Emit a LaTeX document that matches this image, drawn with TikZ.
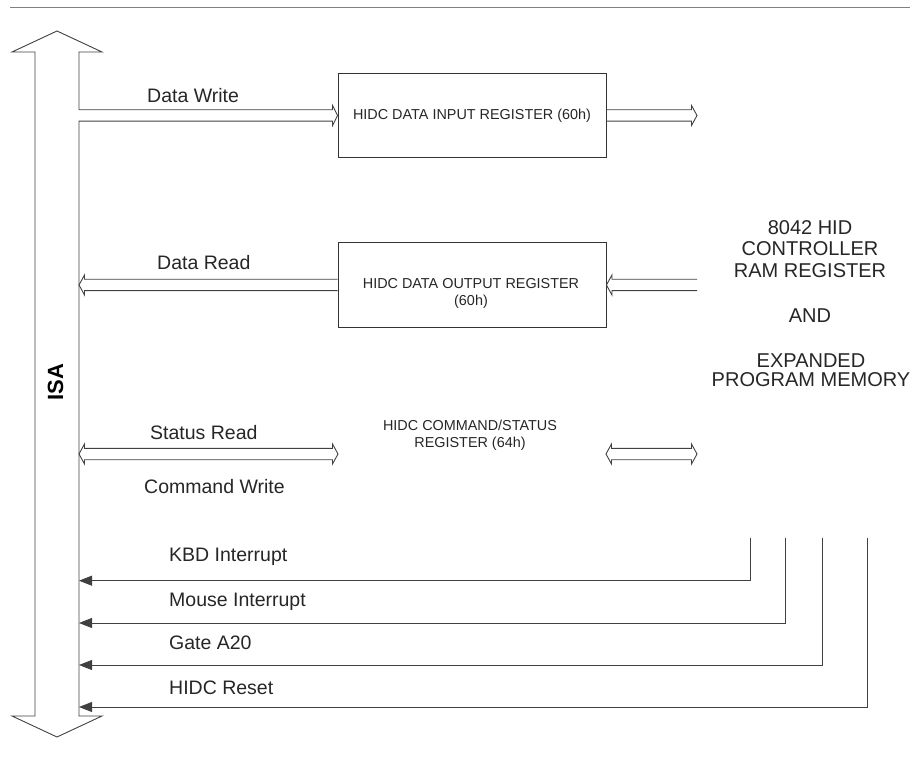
\documentclass[tikz,border=0pt]{standalone}
\usepackage{fontspec}
\setmainfont{Liberation Sans}
\usetikzlibrary{calc,arrows.meta}

% geometry of the wide (hollow) bus arrows
\def\wabody{5.7pt}
\def\wahead{10pt}
\def\walen{5.5pt}

% hollow arrow pointing right: tail #1, tip #2 (tail end left open)
\newcommand\widearrowR[2]{%
  \draw[wire] let \p1=(#1), \p2=(#2) in
    (\x1,\y1+\wabody) -- (\x2-\walen,\y1+\wabody) -- (\x2-\walen,\y1+\wahead) -- (\x2,\y1)
    -- (\x2-\walen,\y1-\wahead) -- (\x2-\walen,\y1-\wabody) -- (\x1,\y1-\wabody);}
% hollow arrow pointing left: tail #1, tip #2
\newcommand\widearrowL[2]{%
  \draw[wire] let \p1=(#1), \p2=(#2) in
    (\x1,\y1+\wabody) -- (\x2+\walen,\y1+\wabody) -- (\x2+\walen,\y1+\wahead) -- (\x2,\y1)
    -- (\x2+\walen,\y1-\wahead) -- (\x2+\walen,\y1-\wabody) -- (\x1,\y1-\wabody);}
% hollow arrow with heads at both ends: left tip #1, right tip #2
\newcommand\widearrowLR[2]{%
  \draw[wire] let \p1=(#1), \p2=(#2) in
    (\x1+\walen,\y1+\wabody) -- (\x2-\walen,\y1+\wabody) -- (\x2-\walen,\y1+\wahead) -- (\x2,\y1)
    -- (\x2-\walen,\y1-\wahead) -- (\x2-\walen,\y1-\wabody) -- (\x1+\walen,\y1-\wabody)
    -- (\x1+\walen,\y1-\wahead) -- (\x1,\y1) -- (\x1+\walen,\y1+\wahead) -- cycle;}

\begin{document}
\begin{tikzpicture}[x=1pt,y=-1pt,
  wire/.style={draw=black!75, line width=0.9pt, line join=miter},
  rule/.style={draw=black!50, line width=1.6pt},
  regbox/.style={draw=black!80, line width=0.9pt, minimum width=268pt,
    minimum height=84pt, inner sep=0pt},
  regtext/.style={font=\fontsize{14.4}{16.7}\selectfont, align=center, text=black!85},
  siglabel/.style={font=\fontsize{19.5}{22}\selectfont, anchor=west, inner sep=0pt,
    text height=14pt, text depth=0pt, text=black!85},
  sideblock/.style={font=\fontsize{20}{21.5}\selectfont, align=center, text=black!85},
  signal/.style={draw=black!75, line width=0.9pt, -{Triangle[length=13pt,width=10pt]}},
]
\useasboundingbox (0,0) rectangle (911,759);

% top rule
\draw[rule] (10,7.5) -- (910,7.5);

% register boxes
\node[regbox, regtext] (box1) at (472,115.5) {HIDC DATA INPUT REGISTER (60h)};
\node[regbox, minimum height=85pt] (box2) at (472,285) {};
\node[regtext] (box2txt) at (471,293.3) {HIDC DATA OUTPUT REGISTER\\(60h)};
\node[regtext] (cs) at (470,435) {HIDC COMMAND/STATUS\\REGISTER (64h)};

% ISA bus with the Data Write branch
\draw[wire] (57,31) -- (102,52) -- (79,52) -- (79,109.8) -- (332.5,109.8)
  -- (332.5,105.5) -- (box1.west) -- (332.5,125.5) -- (332.5,121.2) -- (79,121.2)
  -- (79,716) -- (102,716) -- (57,737) -- (12,716) -- (35,716) -- (35,52)
  -- (12,52) -- cycle;
\node[rotate=90, inner sep=0pt, text height=15pt, text depth=0pt,
  font=\bfseries\fontsize{22}{22}\selectfont] (isa) at (55.5,382) {ISA};

% tap points on the bus
\coordinate (bus-dr) at (79,285);
\coordinate (bus-st) at (79,454);
\coordinate (bus-kbd) at (79,580.7);
\coordinate (bus-mouse) at (79,623);
\coordinate (bus-gate) at (79,665);
\coordinate (bus-reset) at (79,707);

% controller side
\coordinate (ram-di) at (697,115.5);
\coordinate (ram-do) at (697,285);
\coordinate (cs-l) at (338,454);
\coordinate (cs-r) at (606,454);
\coordinate (ram-cs) at (697,454);
\coordinate (src-kbd) at (750.5,537.5);
\coordinate (src-mouse) at (785,537.5);
\coordinate (src-gate) at (822.3,537.5);
\coordinate (src-reset) at (867,537.5);

\node[sideblock] (ram) at (810,249) {8042 HID\\CONTROLLER\\RAM REGISTER};
\node[sideblock] (and) at (810,316) {AND};
\node[sideblock, font=\fontsize{20}{19.5}\selectfont] (prog) at (811,370) {EXPANDED\\PROGRAM MEMORY};

% data paths
\widearrowR{box1.east}{ram-di}
\widearrowL{box2.west}{bus-dr}
\widearrowL{ram-do}{box2.east}
\widearrowLR{bus-st}{cs-l}
\widearrowLR{cs-r}{ram-cs}

% control lines
\draw[signal] (src-kbd) |- (bus-kbd);
\draw[signal] (src-mouse) |- (bus-mouse);
\draw[signal] (src-gate) |- (bus-gate);
\draw[signal] (src-reset) |- (bus-reset);

% labels
\node[siglabel] (l-dw) at (147,95.7) {Data Write};
\node[siglabel] (l-dr) at (157,262.7) {Data Read};
\node[siglabel] (l-sr) at (150,432) {Status Read};
\node[siglabel] (l-cw) at (144,486.7) {Command Write};
\node[siglabel] (l-kbd) at (169,554) {KBD Interrupt};
\node[siglabel] (l-mouse) at (169,599) {Mouse Interrupt};
\node[siglabel] (l-gate) at (169,642.5) {Gate A20};
\node[siglabel] (l-reset) at (169,687.5) {HIDC Reset};
\end{tikzpicture}
\end{document}
